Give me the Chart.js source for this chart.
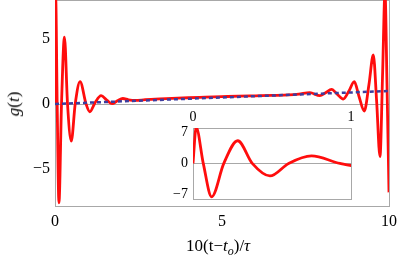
<!DOCTYPE html>
<html>
<head>
<meta charset="utf-8">
<script src="https://cdn.jsdelivr.net/npm/chart.js@4/dist/chart.umd.min.js"></script>
<style>
  html, body { margin: 0; padding: 0; background: #fff; }
  #wrap { position: relative; width: 399px; height: 259px; }
  #main { position: absolute; left: 0; top: 0; }
  #inset { position: absolute; left: 160px; top: 100px; }
  .ttl { position: absolute; font-family: "Liberation Serif", serif; font-size: 17px; color: #000; white-space: nowrap; }
  #xTitle { left: 186px; top: 236px; }
  #yTitle { left: 14px; top: 104px; transform: translate(-50%, -50%) rotate(-90deg); }
  sub { font-size: 12px; }
</style>
</head>
<body>
<div id="wrap">
  <canvas id="main" width="399" height="259"></canvas>
  <canvas id="inset" width="200" height="105"></canvas>
  <div class="ttl" id="xTitle">10(t−<i>t</i><sub><i>o</i></sub>)/<i>τ</i></div>
  <div class="ttl" id="yTitle"><i>g</i>(<i>t</i>)</div>
</div>
<script>
// g(t) (t in units of 10(t-t_o)/tau)
const gT = [0, 0.02, 0.065, 0.118, 0.195, 0.283, 0.375, 0.487, 0.605, 0.75, 0.93, 1.04,
  1.2, 1.38, 1.55, 1.71, 1.87, 2.03, 2.2, 2.4, 2.7, 3.0, 3.5, 4.0, 4.5, 5.0, 5.5, 6.0,
  6.5, 7.0, 7.3, 7.63, 7.93, 8.1, 8.28, 8.45, 8.63, 8.8, 8.96, 9.1, 9.26, 9.4, 9.53,
  9.63, 9.73, 9.81, 9.88, 9.94, 10];
const gVal = [0, 8.2, 0, -7.6, 0, 5.15, 0, -2.86, 0, 1.72, 0, -0.6,
  0.1, 0.64, 0.3, 0.02, 0.25, 0.42, 0.32, 0.27, 0.33, 0.38, 0.43, 0.48, 0.52, 0.56, 0.6, 0.63,
  0.66, 0.7, 0.76, 0.87, 0.64, 0.86, 1.13, 0.75, 0.38, 1.0, 1.72, 0.6, -0.54, 1.5, 3.77,
  0.2, -4.05, 2.5, 8.6, 1.5, -6.8];

// linear reference (blue dashed)
const refT = [0, 10];
const refVal = [0, 1.0];

const mainXTicks = [0, 5, 10];
const mainYTicks = [-5, 0, 5];
const insetXTicks = [0, 1];
const insetYTicks = [-7, 0, 7];

const pts = (xs, ys) => xs.map((x, i) => ({ x, y: ys[i] }));
const fmt = v => (v < 0 ? '\u2212' + Math.abs(v) : String(v));
const serif = '"Liberation Serif", serif';
const frameColor = '#a8a8a8';

// fixed axis sizes, no extra label padding around the plot box
const fixX = h => s => { s.height = h; s.paddingLeft = 0; s.paddingRight = 0; };
const fixY = w => s => { s.width = w; s.paddingTop = 0; s.paddingBottom = 0; };

// frame box + zero line, drawn under the curves
const framePlugin = {
  id: 'frame',
  beforeDatasetsDraw(chart) {
    const { ctx, chartArea: a, scales } = chart;
    ctx.save();
    ctx.strokeStyle = frameColor;
    ctx.lineWidth = 1;
    const y0 = Math.round(scales.y.getPixelForValue(0)) + 0.5;
    ctx.beginPath();
    ctx.moveTo(a.left, y0);
    ctx.lineTo(a.right, y0);
    ctx.stroke();
    ctx.strokeRect(Math.round(a.left) + 0.5, Math.round(a.top) + 0.5,
      Math.round(a.right - a.left), Math.round(a.bottom - a.top));
    ctx.restore();
  }
};

const noGrid = { display: false, drawTicks: false };

new Chart(document.getElementById('main'), {
  type: 'line',
  data: {
    datasets: [
      {
        data: pts(refT, refVal),
        borderColor: '#3d3d9e',
        borderWidth: 2.5,
        borderDash: [4, 3],
        pointRadius: 0,
        tension: 0,
      },
      {
        data: pts(gT, gVal),
        borderColor: '#ff0d0d',
        borderWidth: 2.8,
        pointRadius: 0,
        cubicInterpolationMode: 'monotone',
      },
    ],
  },
  options: {
    responsive: false,
    animation: false,
    events: [],
    layout: { padding: { top: 0, right: 10, left: 0, bottom: 0 } },
    plugins: { legend: { display: false }, tooltip: { enabled: false } },
    scales: {
      x: {
        type: 'linear',
        min: 0,
        max: 10,
        afterBuildTicks: s => { s.ticks = mainXTicks.map(value => ({ value })); },
        afterFit: fixX(53),
        grid: noGrid,
        border: { display: false },
        ticks: { color: '#000', padding: 6, maxRotation: 0, font: { family: serif, size: 16 }, callback: fmt },
      },
      y: {
        type: 'linear',
        min: -7.85,
        max: 8,
        afterBuildTicks: s => { s.ticks = mainYTicks.map(value => ({ value })); },
        afterFit: fixY(55),
        grid: noGrid,
        border: { display: false },
        ticks: { color: '#000', padding: 5, font: { family: serif, size: 16 }, callback: fmt },
      },
    },
  },
  plugins: [framePlugin],
});

new Chart(document.getElementById('inset'), {
  type: 'line',
  data: {
    datasets: [
      {
        data: pts(gT, gVal),
        borderColor: '#ff0d0d',
        borderWidth: 2.8,
        pointRadius: 0,
        cubicInterpolationMode: 'monotone',
      },
    ],
  },
  options: {
    responsive: false,
    animation: false,
    events: [],
    layout: { padding: { top: 0, right: 9, left: 0, bottom: 6 } },
    plugins: { legend: { display: false }, tooltip: { enabled: false } },
    scales: {
      x: {
        type: 'linear',
        position: 'top',
        min: 0,
        max: 1,
        afterBuildTicks: s => { s.ticks = insetXTicks.map(value => ({ value })); },
        afterFit: fixX(28),
        grid: noGrid,
        border: { display: false },
        ticks: { color: '#000', padding: 2, maxRotation: 0, font: { family: serif, size: 14 }, callback: fmt },
      },
      y: {
        type: 'linear',
        min: -8.1,
        max: 8.05,
        afterBuildTicks: s => { s.ticks = insetYTicks.map(value => ({ value })); },
        afterFit: fixY(33),
        grid: noGrid,
        border: { display: false },
        ticks: { color: '#000', padding: 5, font: { family: serif, size: 14 }, callback: fmt },
      },
    },
  },
  plugins: [framePlugin],
});
</script>
</body>
</html>
